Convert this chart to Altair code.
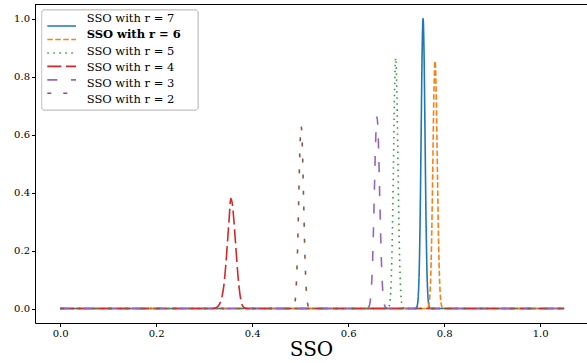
import altair as alt
import pandas as pd

# ---------------- data ----------------
labels = ["SSO with r = 7", "SSO with r = 6", "SSO with r = 5",
          "SSO with r = 4", "SSO with r = 3", "SSO with r = 2"]
colors = ["#1f77b4", "#ff7f0e", "#2ca02c", "#d62728", "#9467bd", "#8c564b"]
dashes = [[1, 0], [5.5, 2.5], [1.5, 4.5], [14, 4.7], [10, 13.7], [4, 12]]

x_r7 = [0.0, 0.740, 0.742, 0.744, 0.746, 0.748, 0.750, 0.752, 0.754, 0.756,
        0.758, 0.760, 0.762, 0.764, 0.766, 0.768, 0.770, 0.772, 1.05]
y_r7 = [0.0, 0.0, 0.002, 0.011, 0.044, 0.135, 0.325, 0.607, 0.882, 1.0,
        0.882, 0.607, 0.325, 0.135, 0.044, 0.011, 0.002, 0.0, 0.0]

x_r6 = [0.0, 0.763, 0.767, 0.7705, 0.7735, 0.776, 0.7785, 0.781, 0.7835,
        0.786, 0.7885, 0.7915, 0.795, 0.799, 1.05]
y_r6 = [0.0, 0.0, 0.007, 0.056, 0.213, 0.46, 0.731, 0.853, 0.731,
        0.46, 0.213, 0.056, 0.007, 0.0, 0.0]

x_r5 = [0.0, 0.681, 0.685, 0.6885, 0.6915, 0.694, 0.6965, 0.699, 0.7015,
        0.704, 0.7065, 0.7095, 0.713, 0.717, 1.05]
y_r5 = [0.0, 0.0, 0.007, 0.057, 0.215, 0.466, 0.740, 0.864, 0.740,
        0.466, 0.215, 0.057, 0.007, 0.0, 0.0]

x_r4 = [0.0, 0.315, 0.325, 0.332, 0.337, 0.341, 0.345, 0.349, 0.352, 0.3555,
        0.359, 0.362, 0.366, 0.370, 0.374, 0.378, 0.383, 0.39, 1.05]
y_r4 = [0.0, 0.0, 0.003, 0.015, 0.04, 0.08, 0.15, 0.24, 0.31, 0.38,
        0.355, 0.30, 0.21, 0.12, 0.055, 0.018, 0.003, 0.0, 0.0]

x_r3 = [0.0, 0.638, 0.643, 0.6475, 0.651, 0.654, 0.657, 0.660, 0.663,
        0.666, 0.669, 0.6725, 0.677, 0.682, 1.05]
y_r3 = [0.0, 0.0, 0.006, 0.050, 0.173, 0.364, 0.570, 0.661, 0.570,
        0.364, 0.173, 0.050, 0.006, 0.0, 0.0]

x_r2 = [0.0, 0.483, 0.4875, 0.4915, 0.4945, 0.497, 0.4995, 0.502, 0.5045,
        0.507, 0.5095, 0.5125, 0.5165, 0.521, 1.05]
y_r2 = [0.0, 0.0, 0.009, 0.069, 0.204, 0.382, 0.555, 0.629, 0.555,
        0.382, 0.204, 0.069, 0.009, 0.0, 0.0]

x_ticks = [0.0, 0.2, 0.4, 0.6, 0.8, 1.0]
y_ticks = [0.0, 0.2, 0.4, 0.6, 0.8, 1.0]
bold_label = "SSO with r = 6"

# ---------------- build table ----------------
series = [(x_r7, y_r7), (x_r6, y_r6), (x_r5, y_r5),
          (x_r4, y_r4), (x_r3, y_r3), (x_r2, y_r2)]
rows = []
for i, (xs, ys) in enumerate(series):
    for j, (xv, yv) in enumerate(zip(xs, ys)):
        rows.append({"series": labels[i], "order": i, "idx": j, "x": xv, "y": yv})
df = pd.DataFrame(rows)
leg = pd.DataFrame({"series": labels})

FONT = "DejaVu Serif"
W, H = 552, 319

color_scale = alt.Scale(domain=labels, range=colors)
dash_scale = alt.Scale(domain=labels, range=dashes)

lines = alt.Chart(df).mark_line(strokeWidth=1.6, interpolate="monotone").encode(
    x=alt.X("x:Q", scale=alt.Scale(domain=[-0.0525, 1.0975], nice=False, zero=False),
            axis=alt.Axis(values=x_ticks, format=".1f", title="SSO")),
    y=alt.Y("y:Q", scale=alt.Scale(domain=[-0.05, 1.05], nice=False, zero=False),
            axis=alt.Axis(values=y_ticks, format=".1f", title=None)),
    color=alt.Color("series:N", scale=color_scale, legend=None),
    strokeDash=alt.StrokeDash("series:N", scale=dash_scale, legend=None),
    order=alt.Order("idx:Q"),
)

top_spine = alt.Chart(leg).mark_rule(color="black", strokeWidth=1).encode(
    x=alt.value(0), x2=alt.value(W), y=alt.value(0.5)
)

legend_y = alt.Y("series:N", scale=alt.Scale(domain=labels, range=[15.3, 96], padding=0),
                 axis=None)

leg_box = alt.Chart(leg).mark_rect(
    fill="white", fillOpacity=0.8, stroke="#cccccc", strokeWidth=1, cornerRadius=3
).encode(x=alt.value(6.7), x2=alt.value(163), y=alt.value(6), y2=alt.value(106))

leg_lines = alt.Chart(leg).mark_rule(strokeWidth=1.6).encode(
    x=alt.value(12.3), x2=alt.value(41), y=legend_y,
    color=alt.Color("series:N", scale=color_scale, legend=None),
    strokeDash=alt.StrokeDash("series:N", scale=dash_scale, legend=None),
)

leg_text = alt.Chart(leg).transform_filter(
    alt.datum.series != bold_label
).mark_text(font=FONT, fontSize=11.5, align="left", baseline="middle", color="black").encode(
    x=alt.value(51.7), y=legend_y, text="series:N"
)
leg_text_bold = alt.Chart(leg).transform_filter(
    alt.datum.series == bold_label
).mark_text(font=FONT, fontSize=11.5, fontWeight="bold", align="left", baseline="middle",
            color="black").encode(
    x=alt.value(51.7), y=legend_y, text="series:N"
)

chart = alt.layer(
    lines, top_spine, leg_box, leg_lines, leg_text, leg_text_bold
).resolve_scale(
    y="independent"
).properties(
    width=W, height=H,
    background="white",
    autosize=alt.AutoSizeParams(type="none"),
    padding={"left": 35, "top": 4, "right": 0, "bottom": 40},
).configure_view(
    stroke=None
).configure_axis(
    grid=False, domainColor="black", domainWidth=1, tickColor="black", tickWidth=1,
    tickSize=3.5, labelFont=FONT, labelFontSize=10, labelColor="black",
    labelPadding=2, titleFont=FONT, titleFontSize=20, titleFontWeight="normal",
    titleColor="black", titlePadding=1,
)

chart.save("out.html", embed_options={"renderer": "svg", "actions": False})
